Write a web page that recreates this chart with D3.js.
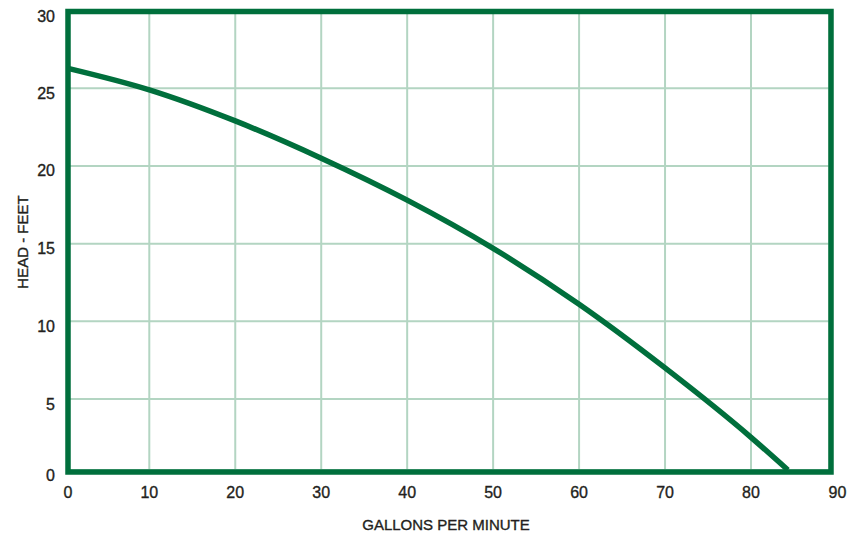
<!DOCTYPE html>
<html>
<head>
<meta charset="utf-8">
<script src="https://cdn.jsdelivr.net/npm/d3@7"></script>
<style>
  body { margin: 0; background: #fff; }
  svg { display: block; font-family: "Liberation Sans", Arial, sans-serif; }
  text { stroke: #231f20; stroke-width: 0.35px; }
</style>
</head>
<body>
<svg width="864" height="533"></svg>
<script>
// pump curve
var gpm  = [0, 10, 20, 30, 40, 50, 60, 70, 80, 84.7];
var head = [26.3, 24.9, 22.9, 20.5, 17.8, 14.7, 11.1, 7.0, 2.3, 0];
var xTicks = [0, 10, 20, 30, 40, 50, 60, 70, 80, 90];
var yTicks = [0, 5, 10, 15, 20, 25, 30];

var dark = "#006f3c", light = "#b3d5c2", ink = "#231f20";

var svg = d3.select("svg");

// the original grid is drawn a little unevenly at the ends
var x = d3.scaleLinear().domain([0, 10, 80, 90]).range([68, 149.3, 751, 829.5]);
var y = d3.scaleLinear().domain([0, 5, 25, 30]).range([470, 399, 88.3, 11.5]);

// grid
svg.append("g").selectAll("line")
    .data(xTicks)
    .enter()
    .append("line")
    .attr("x1", d => x(d)).attr("x2", d => x(d))
    .attr("y1", y(30)).attr("y2", y(0))
    .attr("stroke", light).attr("stroke-width", 2);

svg.append("g").selectAll("line")
    .data(yTicks)
    .enter()
    .append("line")
    .attr("y1", d => y(d)).attr("y2", d => y(d))
    .attr("x1", x(0)).attr("x2", x(90))
    .attr("stroke", light).attr("stroke-width", 2);

// curve
var pts = gpm.map((g, i) => [g, head[i]]);
var line = d3.line()
    .x(d => x(d[0]))
    .y(d => y(d[1]))
    .curve(d3.curveMonotoneX);

svg.append("path")
    .datum(pts)
    .attr("d", line)
    .attr("fill", "none")
    .attr("stroke", dark)
    .attr("stroke-width", 5.5);

// frame
svg.append("rect")
    .attr("x", x(0))
    .attr("y", y(30))
    .attr("width", x(90) + 1.5 - x(0))
    .attr("height", y(0) + 2 - y(30))
    .attr("fill", "none")
    .attr("stroke", dark)
    .attr("stroke-width", 5.5);

// tick labels
svg.append("g").selectAll("text")
    .data(xTicks)
    .enter()
    .append("text")
    .attr("x", d => x(d) + (d === 90 ? 8 : 0))
    .attr("y", 498)
    .attr("text-anchor", "middle")
    .attr("font-size", 16)
    .attr("fill", ink)
    .text(d => d);

svg.append("g").selectAll("text")
    .data(yTicks)
    .enter()
    .append("text")
    .attr("x", 55)
    .attr("y", d => y(d) + 10.5)
    .attr("text-anchor", "end")
    .attr("font-size", 16)
    .attr("fill", ink)
    .text(d => d);

// axis titles
svg.append("text")
    .attr("x", 446)
    .attr("y", 530)
    .attr("text-anchor", "middle")
    .attr("font-size", 15)
    .attr("fill", ink)
    .text("GALLONS PER MINUTE");

svg.append("text")
    .attr("transform", "translate(27.5,242) rotate(-90)")
    .attr("text-anchor", "middle")
    .attr("font-size", 15)
    .attr("fill", ink)
    .text("HEAD - FEET");
</script>
</body>
</html>
